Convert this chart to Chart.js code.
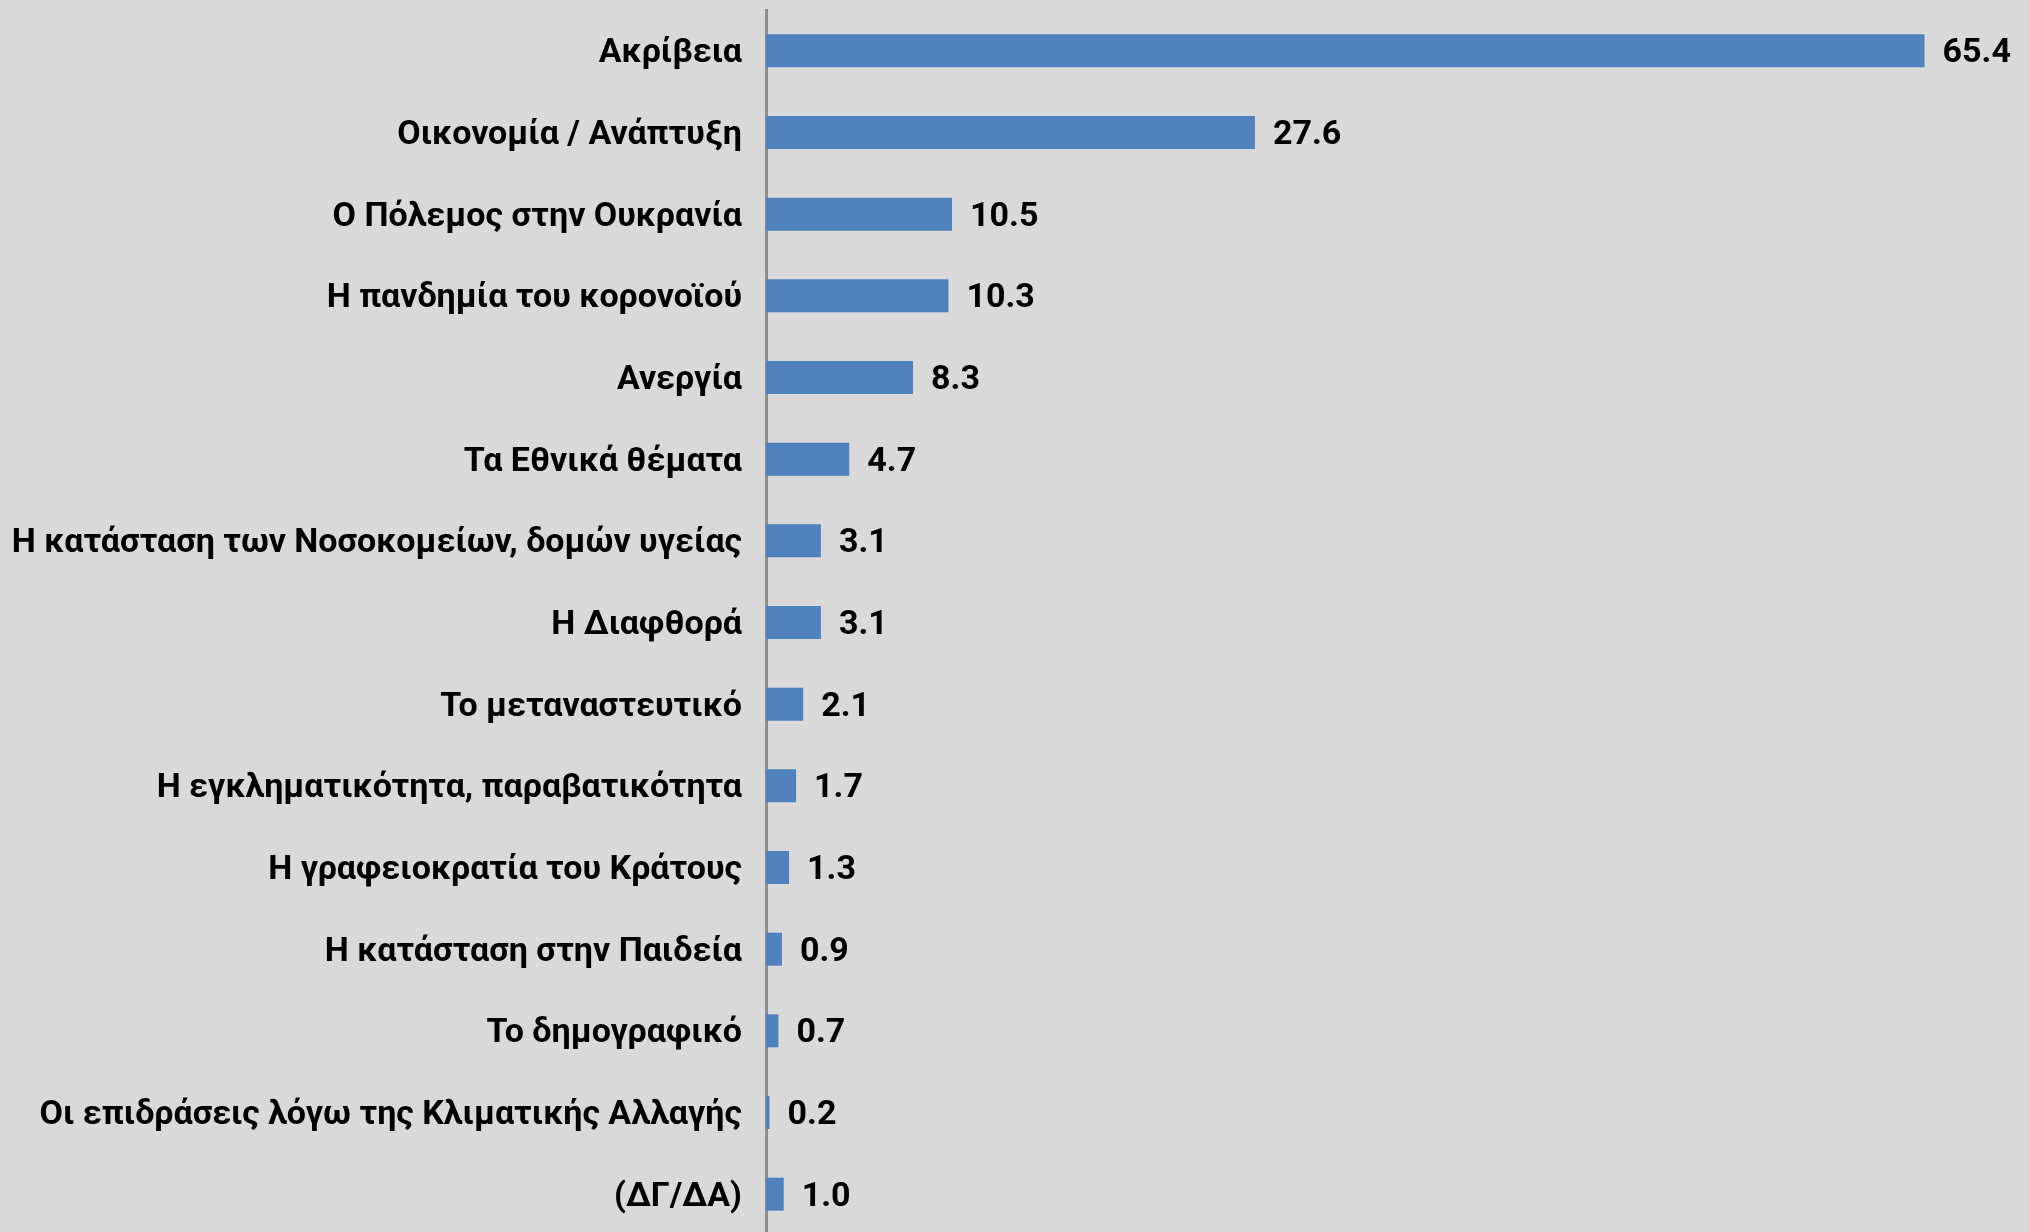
<!DOCTYPE html>
<html>
<head>
<meta charset="utf-8">
<script src="https://cdn.jsdelivr.net/npm/chart.js@4/dist/chart.umd.min.js"></script>
<style>
  html, body { margin: 0; padding: 0; overflow: hidden; background: #d9d9d9; }
  #wrap { position: relative; width: 2029px; height: 1236px; }
</style>
</head>
<body>
<div id="wrap"><canvas id="issuesChart"></canvas></div>
<script>
var categories = [
  "Ακρίβεια",
  "Οικονομία / Ανάπτυξη",
  "Ο Πόλεμος στην Ουκρανία",
  "Η πανδημία του κορονοϊού",
  "Ανεργία",
  "Τα Εθνικά θέματα",
  "Η κατάσταση των Νοσοκομείων, δομών υγείας",
  "Η Διαφθορά",
  "Το μεταναστευτικό",
  "Η εγκληματικότητα, παραβατικότητα",
  "Η γραφειοκρατία του Κράτους",
  "Η κατάσταση στην Παιδεία",
  "Το δημογραφικό",
  "Οι επιδράσεις λόγω της Κλιματικής Αλλαγής",
  "(ΔΓ/ΔΑ)"
];
var values = [65.4, 27.6, 10.5, 10.3, 8.3, 4.7, 3.1, 3.1, 2.1, 1.7, 1.3, 0.9, 0.7, 0.2, 1.0];

var fontFamily = "Roboto, 'Open Sans', sans-serif";
var fontSize = 34;

// value labels at the end of each bar
var valueLabels = {
  id: "valueLabels",
  afterDatasetsDraw: function (chart) {
    var ctx = chart.ctx;
    var meta = chart.getDatasetMeta(0);
    ctx.save();
    ctx.font = "bold " + fontSize + "px " + fontFamily;
    ctx.fillStyle = "#000000";
    ctx.textAlign = "left";
    ctx.textBaseline = "middle";
    for (var i = 0; i < meta.data.length; i++) {
      var bar = meta.data[i];
      ctx.fillText(values[i].toFixed(1), bar.x + 18, bar.y + 3);
    }
    ctx.restore();
  }
};

var ctx = document.getElementById("issuesChart").getContext("2d");
var chart = new Chart(ctx, {
  type: "bar",
  data: {
    labels: categories,
    datasets: [
      {
        data: values,
        backgroundColor: "#4f81bd",
        borderWidth: 0,
        barPercentage: 0.404,
        categoryPercentage: 1.0
      }
    ]
  },
  options: {
    indexAxis: "y",
    responsive: true,
    maintainAspectRatio: false,
    animation: false,
    events: [],
    layout: { padding: { top: 10, right: 23, bottom: 1, left: 0 } },
    plugins: {
      legend: { display: false },
      tooltip: { enabled: false }
    },
    scales: {
      x: {
        display: false,
        min: 0,
        max: 70
      },
      y: {
        grid: { display: false, drawTicks: false },
        border: { display: true, color: "#8c8c8c", width: 3 },
        ticks: {
          color: "#000000",
          font: { family: fontFamily, size: fontSize, weight: "bold" },
          padding: 24,
          labelOffset: 3,
          autoSkip: false
        },
        afterFit: function (scale) {
          scale.width = 766;
          scale.paddingTop = 0;
          scale.paddingBottom = 0;
        }
      }
    }
  },
  plugins: [valueLabels]
});
</script>
</body>
</html>
